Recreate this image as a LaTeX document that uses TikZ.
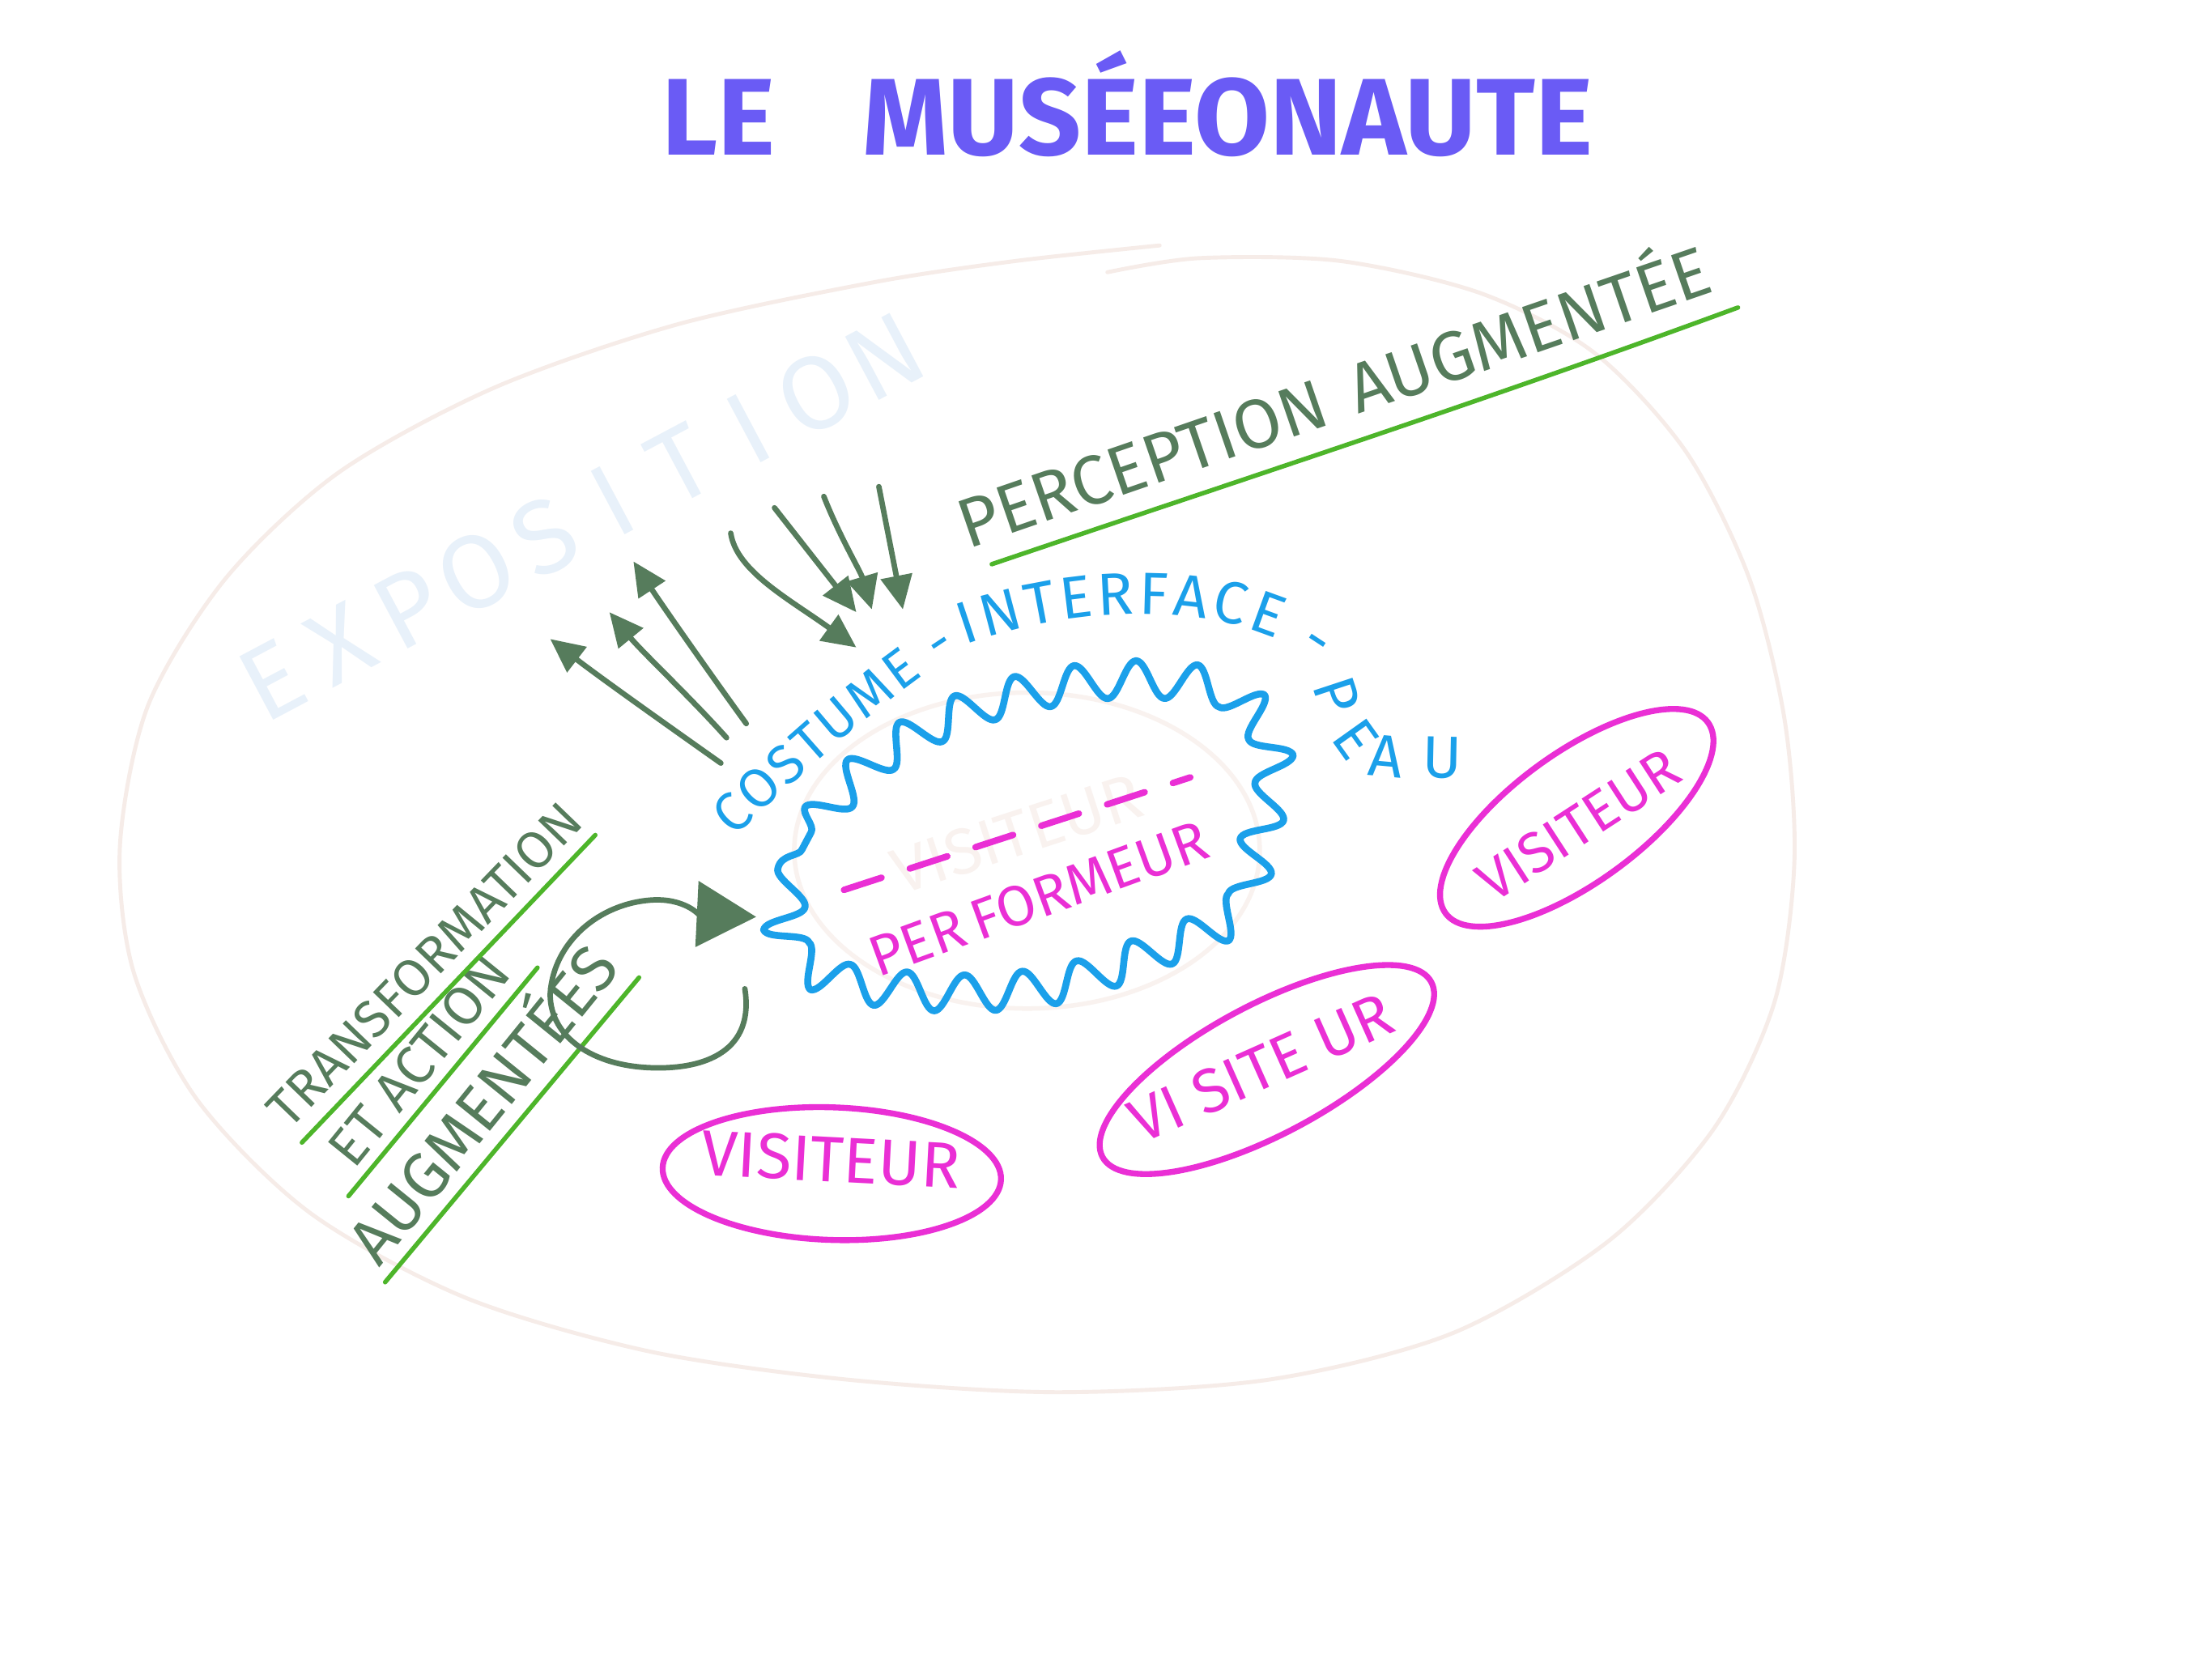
\documentclass[tikz,border=0pt]{standalone}
\usepackage{fontspec}
\setmainfont{Fira Sans}
\usetikzlibrary{arrows.meta,calc,decorations.pathmorphing,decorations.text}

\definecolor{titreviolet}{RGB}{106,91,245}
\definecolor{vertfonce}{RGB}{86,124,92}
\definecolor{vertclair}{RGB}{77,181,42}
\definecolor{bleu}{RGB}{27,160,234}
\definecolor{rose}{RGB}{234,47,213}
\definecolor{pale}{RGB}{246,236,232}
\definecolor{trespale}{RGB}{249,242,239}
\definecolor{bleupale}{RGB}{232,241,250}

\begin{document}
\begin{tikzpicture}[x=.01cm,y=-.01cm,line cap=round,line join=round,
  fleche/.style={draw=vertfonce,line width=1.1pt,-{Triangle[length=.24cm,width=.22cm]}},
  souligne/.style={draw=vertclair,line width=.9pt},
  ecrit/.style={text=vertfonce,inner sep=1pt},
  bulle/.style={draw=rose,line width=1.2pt},
  visiteur/.style={text=rose,inner sep=1pt},
  peau/.style={decorate,decoration={text along path,text align={fit to path},text={|\fontsize{12}{14}\selectfont\color{bleu}|#1}}},
  peaupetit/.style={decorate,decoration={text along path,text align={fit to path},text={|\fontsize{11}{13}\selectfont\color{bleu}|#1}}}]

\useasboundingbox (0,0) rectangle (1568,1175);
\fill[white] (0,0) rectangle (1568,1175);

\node[anchor=base,text=titreviolet,font=\fontsize{22}{26}\selectfont\bfseries] (titre) at (799,110) {LE\hspace{.8em}MUSÉEONAUTE};

\draw[pale,line width=.8pt] plot[smooth] coordinates {(785,193) (850,183) (950,185) (1050,208) (1130,250) (1195,320) (1240,410) (1265,510) (1272,610) (1258,710) (1215,800) (1140,880) (1030,945) (900,978) (750,987) (600,978) (460,958) (330,920) (220,860) (140,780) (95,690) (85,600) (105,500) (160,410) (240,335) (350,275) (480,230) (620,200) (720,185) (822,174)};

\foreach \l [count=\i from 0] in {E,X,P,O,S,I,T,I,O,N}
  \node[rotate=28,text=bleupale,font=\fontsize{21}{24}\selectfont] (expo\i) at ($(193,482)!\i/9!(627,253)$) {\l};

\draw[trespale,line width=.9pt] (728,603) ellipse [x radius=165,y radius=112];
\node[rotate=18,text=trespale,font=\fontsize{13}{15}\selectfont] (fantome) at (721,591) {VISITEUR};

\draw[bleu,line width=1.4pt,decorate,decoration={snake,amplitude=.13cm,segment length=.42cm}] plot[smooth cycle] coordinates {(552,660) (575,590) (625,540) (700,505) (790,490) (868,500) (897,550) (885,610) (872,655) (820,680) (750,705) (675,712) (600,705) (565,690)};

\draw[rose,line width=1.3pt,dash pattern=on .28cm off .21cm] ($(fantome.west)!-.12!(fantome.east)$) -- ($(fantome.east)!-.12!(fantome.west)$);
\node[rotate=20,text=rose,font=\fontsize{11.5}{13}\selectfont] (perf) at (736,637) {PER\,FORMEUR};

\path[peaupetit={COSTUME -}] (520,594) .. controls (565,552) and (620,500) .. (679,462);
\path[peau={INTERFACE -}] (684,457) .. controls (760,430) and (870,422) .. (934,470);
\path[peau={PEAU}] (930,486) .. controls (942,525) and (952,550) .. (985,551) -- (1036,552);

\node[ecrit,rotate=19,font=\fontsize{14}{16}\selectfont] (percep) at (944,277) {PERCEPTION\hspace{.4em}AUGMENTÉE};
\draw[souligne] (703,400) .. controls (880,340) and (1050,285) .. (1232,218);

\node[ecrit,rotate=46,font=\fontsize{10.5}{12}\selectfont] (transfo) at (301,684) {TRANSFORMATION};
\node[ecrit,rotate=51,font=\fontsize{11}{13}\selectfont] (action) at (297,752) {ET ACTION};
\node[ecrit,rotate=51,font=\fontsize{13}{15}\selectfont] (augm) at (339,780) {AUGMENTÉES};
\draw[souligne] (214,810) -- (422,592);
\draw[souligne] (247,848) -- (381,686);
\draw[souligne] (273,909) -- (453,693);

\coordinate (d1) at (511,541);
\coordinate (a1) at (390,453);
\coordinate (d2) at (515,523);
\coordinate (a2) at (432,434);
\coordinate (d3) at (529,513);
\coordinate (a3) at (449,398);
\coordinate (p1) at (518,378);
\coordinate (b1) at (607,459);
\coordinate (p2) at (549,360);
\coordinate (b2) at (607,434);
\coordinate (p3) at (584,352);
\coordinate (b3) at (618,432);
\coordinate (p4) at (623,345);
\coordinate (b4) at (640,432);

\draw[fleche] (d1) .. controls (470,512) and (425,480) .. (a1);
\draw[fleche] (d2) .. controls (490,495) and (455,462) .. (a2);
\draw[fleche] (d3) .. controls (505,480) and (470,430) .. (a3);
\draw[fleche] (p1) .. controls (522,405) and (560,425) .. (b1);
\draw[fleche] (p2) -- (b2);
\draw[fleche] (p3) .. controls (595,380) and (610,405) .. (b3);
\draw[fleche] (p4) -- (b4);

\coordinate (boucle) at (528,701);
\coordinate (gauche) at (536,650);
\draw[fleche,-{Triangle[length=.42cm,width=.46cm]}] (boucle) .. controls (535,745) and (500,758) .. (463,757) .. controls (420,756) and (390,735) .. (390,705) .. controls (392,668) and (425,640) .. (463,638) .. controls (485,637) and (495,648) .. (gauche);

\node[visiteur,rotate=-3,font=\fontsize{13}{15}\selectfont] (v1) at (589,822) {VISITEUR};
\draw[bulle,rotate around={-2:(v1)}] ($(v1)+(1,10)$) ellipse [x radius=120,y radius=47];
\node[visiteur,rotate=24,font=\fontsize{12.5}{14}\selectfont] (v2) at (894,757) {VI SITE UR};
\draw[bulle,rotate around={28:(v2)}] ($(v2)+(3,3)$) ellipse [x radius=132,y radius=46];
\node[visiteur,rotate=33,font=\fontsize{11.5}{13}\selectfont] (v3) at (1119,585) {VISITEUR};
\draw[bulle,rotate around={36:(v3)}] ($(v3)+(2,-5)$) ellipse [x radius=115,y radius=46];

\end{tikzpicture}
\end{document}
